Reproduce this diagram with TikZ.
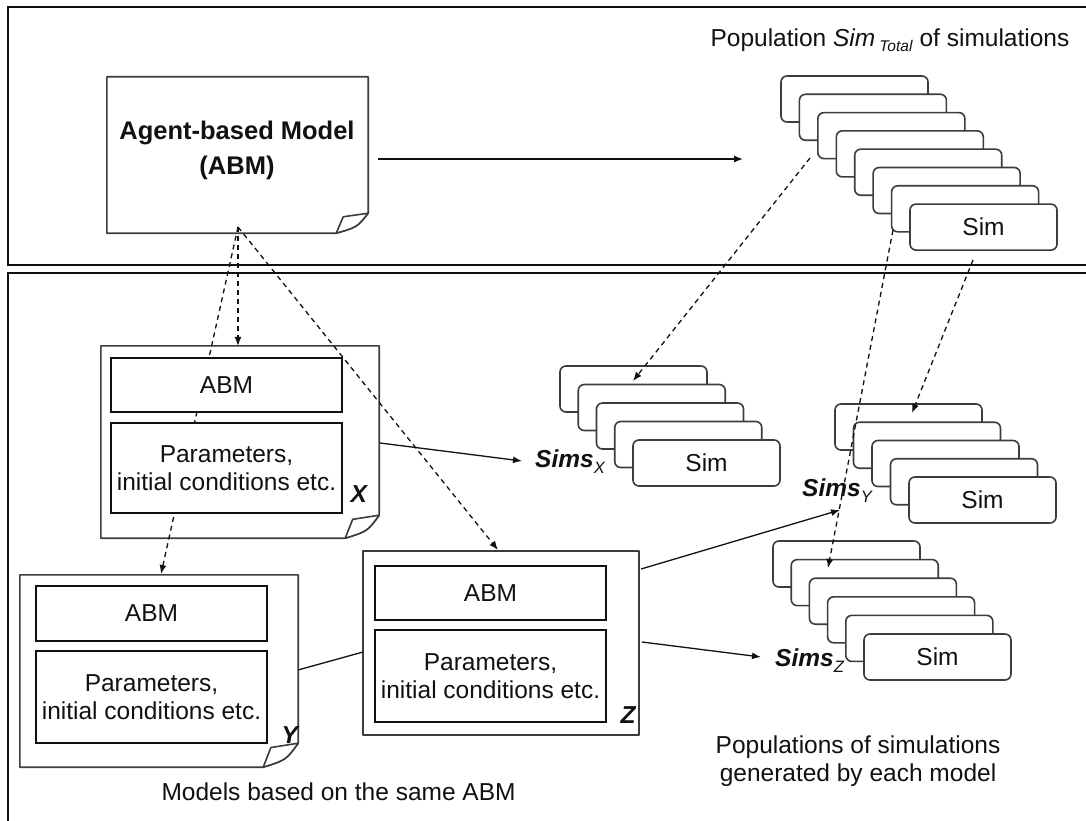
\documentclass[tikz,border=0pt]{standalone}
\usepackage{fontspec}
\setmainfont{Liberation Sans}
\usetikzlibrary{arrows.meta,calc}

\definecolor{linegray}{HTML}{3C3C3C}
\definecolor{inkblack}{HTML}{111111}

\tikzset{
  panel/.style={draw=inkblack, line width=1.6pt},
  outline/.style={draw=linegray, line width=1.6pt, fill=white, line join=round},
  frame/.style={draw=none, inner sep=0pt},
  innerbox/.style={draw=inkblack, line width=1.6pt, fill=white, inner sep=0pt,
    minimum width=231pt, align=center},
  card/.style={draw=linegray, line width=1.6pt, fill=white, rounded corners=6pt,
    minimum width=147pt, minimum height=46pt, inner sep=0pt},
  flow/.style={draw=inkblack, line width=1.3pt, -{Latex[length=9pt,width=7pt]}},
  link/.style={draw=inkblack, line width=1.3pt},
  derive/.style={draw=inkblack, line width=1.3pt, dash pattern=on 5pt off 4pt,
    -{Latex[length=9pt,width=7pt]}},
  every node/.style={font=\fontsize{24.5}{28}\selectfont, text=inkblack},
  heading/.style={font=\fontsize{25.5}{30}\selectfont\bfseries},
  sheetname/.style={font=\fontsize{24.5}{28}\selectfont\bfseries\itshape},
}

% outline of a sheet with a curled lower-right corner: node, curl width, curl height
\newcommand\curledsheet[3]{%
  \draw[outline] (#1.north west) -- (#1.north east) -- ($(#1.south east)+(0,-#3)$)
    .. controls ($(#1.south east)+({-0.35*#2},{-0.3*#3})$) .. ($(#1.south east)+(-#2,0)$)
    -- (#1.south west) -- cycle;
  \draw[outline] ($(#1.south east)+(-#2,0)$) -- ($(#1.south east)+({-0.78*#2},{-0.82*#3})$)
    -- ($(#1.south east)+(0,-#3)$)
    .. controls ($(#1.south east)+({-0.35*#2},{-0.3*#3})$) .. ($(#1.south east)+(-#2,0)$);
}

\begin{document}
\begin{tikzpicture}[x=1pt,y=-1pt]
\useasboundingbox (0,0) rectangle (1086,821);
\clip (0,0) rectangle (1086,821);
\fill[white] (0,0) rectangle (1086,821);

% the two panels
\draw[panel] (8,7) rectangle (1100,265);
\draw[panel] (8,273) rectangle (1100,835);

% ---- the agent-based model sheet
\node[frame, minimum width=261pt, minimum height=156pt] (abm) at (237.5,155) {};
\curledsheet{abm}{32}{20}
\node[anchor=base, heading] (abmline1) at (237,140) {Agent-based Model};
\node[anchor=base, heading] (abmline2) at (237,175) {(ABM)};

% ---- population of all simulations
\foreach \i in {1,...,7}
  \node[card] (pop\i) at ({854.5+(\i-1)*18.43},{99+(\i-1)*18.3}) {};
\node[card] (pop8) at ({854.5+7*18.43},{99+7*18.3}) {Sim};
\node[anchor=base west] (poptitle) at (707,47)
  {Population \textit{Sim}\,\raisebox{-5pt}{\fontsize{15.5}{15.5}\selectfont\textit{Total}} of simulations};

% ---- model sheets
\node[frame, minimum width=278pt, minimum height=192pt] (xdoc) at (240,442) {};
\curledsheet{xdoc}{34}{23}
\node[frame, minimum width=278pt, minimum height=192pt] (ydoc) at (159,671) {};
\curledsheet{ydoc}{35}{24}
\node[outline, frame, draw=linegray, minimum width=276pt, minimum height=184pt] (zdoc) at (501,643) {};

% ---- populations generated by each model
\foreach \i in {1,...,4}
  \node[card] (sx\i) at ({633.5+(\i-1)*18.25},{389+(\i-1)*18.5}) {};
\node[card] (sx5) at ({633.5+4*18.25},{389+4*18.5}) {Sim};

\foreach \i in {1,...,4}
  \node[card] (sy\i) at ({908.5+(\i-1)*18.5},{427+(\i-1)*18.25}) {};
\node[card] (sy5) at ({908.5+4*18.5},{427+4*18.25}) {Sim};

\foreach \i in {1,...,5}
  \node[card] (sz\i) at ({846.5+(\i-1)*18.2},{564+(\i-1)*18.6}) {};
\node[card] (sz6) at ({846.5+5*18.2},{564+5*18.6}) {Sim};

% ---- derivation links (dashed)
\coordinate (abmfoot) at (238,227);
\coordinate (ytop) at (161,574);
\coordinate (ztop) at (498,550);
\draw[derive] (abmfoot) -- (abmfoot |- xdoc.north);
\draw[derive] (abmfoot) -- (ytop);
\draw[derive] (abmfoot) -- (ztop);

\coordinate (popx) at (810,158);
\coordinate (popz) at (893,230);
\coordinate (popy) at (973,260);
\coordinate (sxin) at (633,381);
\coordinate (szin) at (828,568);
\coordinate (syin) at (912,413);
\draw[derive] (popx) -- (sxin);
\draw[derive] (popz) -- (szin);
\draw[derive] (popy) -- (syin);

% ---- contents of the model sheets
\node[innerbox, minimum height=54pt] (xabm) at (226.5,385) {ABM};
\node[innerbox, minimum height=90pt] (xpar) at (226.5,468) {Parameters,\\initial conditions etc.};
\node[innerbox, minimum height=55pt] (yabm) at (151.5,613.5) {ABM};
\node[innerbox, minimum height=92pt] (ypar) at (151.5,697) {Parameters,\\initial conditions etc.};
\node[innerbox, minimum height=54pt] (zabm) at (490.5,593) {ABM};
\node[innerbox, minimum height=92pt] (zpar) at (490.5,676) {Parameters,\\initial conditions etc.};

\node[anchor=base west, sheetname] (xname) at (347,502) {X};
\node[anchor=base west, sheetname] (yname) at (278,743) {Y};
\node[anchor=base west, sheetname] (zname) at (617,723) {Z};

% ---- set labels
\node[anchor=base west, inner sep=0pt] (simsx) at (535,467)
  {\textbf{\textit{Sims}}\raisebox{-6pt}{\fontsize{16.5}{16.5}\selectfont\textit{X}}};
\node[anchor=base west, inner sep=0pt] (simsy) at (802,496)
  {\textbf{\textit{Sims}}\raisebox{-6pt}{\fontsize{16.5}{16.5}\selectfont\textit{Y}}};
\node[anchor=base west, inner sep=0pt] (simsz) at (775,666)
  {\textbf{\textit{Sims}}\raisebox{-6pt}{\fontsize{16.5}{16.5}\selectfont\textit{Z}}};

% ---- generation links (solid)
\coordinate (abmout) at (378,159);
\coordinate (popin) at (743,159);
\draw[flow] (abmout) -- (popin);

\coordinate (xout) at (380,443);
\coordinate (sxarrow) at (522,461);
\draw[flow] (xout) -- (sxarrow);

\coordinate (zouty) at (641,569);
\coordinate (syarrow) at (840,510);
\draw[flow] (zouty) -- (syarrow);

\coordinate (zoutz) at (642,642);
\coordinate (szarrow) at (761,657);
\draw[flow] (zoutz) -- (szarrow);

\coordinate (yright) at (298,670);
\coordinate (zleft) at (363,652);
\draw[link] (yright) -- (zleft);

% ---- captions
\node[anchor=base west] (modelscap) at (158,800) {Models based on the same ABM};
\node[anchor=base] (popcap1) at (858,753) {Populations of simulations};
\node[anchor=base] (popcap2) at (858,781) {generated by each model};
\end{tikzpicture}
\end{document}
